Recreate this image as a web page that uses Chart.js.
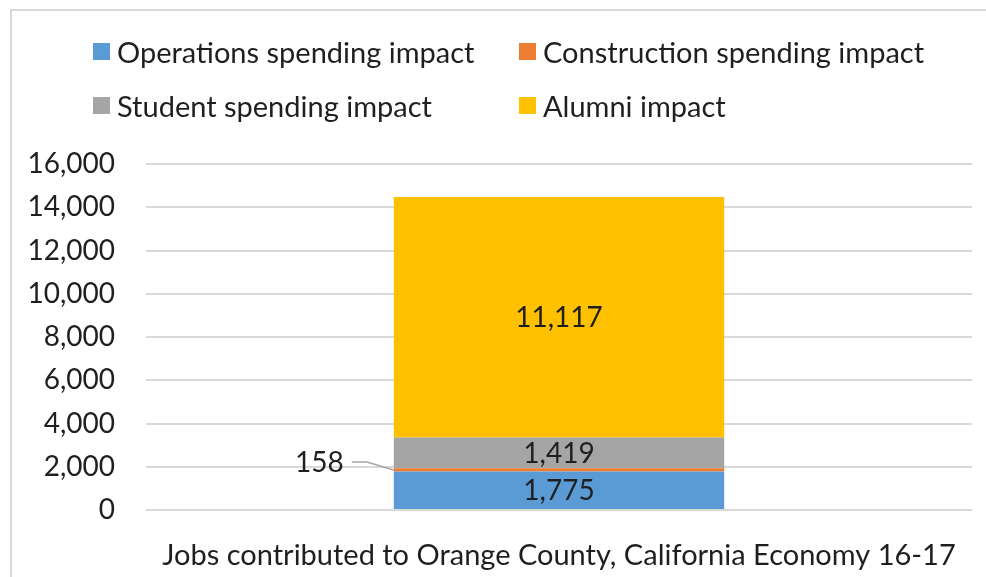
<!DOCTYPE html>
<html>
<head>
<meta charset="utf-8">
<script src="https://cdn.jsdelivr.net/npm/chart.js@4.4.1/dist/chart.umd.min.js"></script>
<style>
  body { margin: 0; background: #fff; }
  #wrap { position: relative; width: 986px; height: 577px; overflow: hidden; }
  #frame { position: absolute; left: 10px; top: 9px; width: 1000px; height: 600px;
           border-left: 2px solid #d9d9d9; border-top: 2px solid #d9d9d9; box-sizing: border-box; }
  #jobs { position: absolute; left: 0; top: 0; }
  .lg { position: absolute; font-family: Lato, sans-serif; font-size: 29px; color: #1f1f1f;
        white-space: nowrap; line-height: 34px; }
  .lg span { position: absolute; width: 17px; height: 17px; left: -24px; top: 8px; }
</style>
</head>
<body>
<div id="wrap">
  <div id="frame"></div>
  <canvas id="jobs" width="986" height="577"></canvas>
  <div id="legend"></div>
</div>
<script>
var categories = ['Jobs contributed to Orange County, California Economy 16-17'];
var seriesNames = ['Operations spending impact', 'Construction spending impact',
                   'Student spending impact', 'Alumni impact'];
var operations = [1775];
var construction = [158];
var student = [1419];
var alumni = [11117];
var colors = ['#5b9bd5', '#ed7d31', '#a5a5a5', '#ffc000'];
var yMax = 16000;
var yStep = 2000;

var seriesValues = [operations, construction, student, alumni];

// legend laid out in two columns like the original
var legendPos = [[117, 35], [543, 35], [117, 89], [543, 89]];
var legend = document.getElementById('legend');
seriesNames.forEach(function (name, i) {
  var d = document.createElement('div');
  d.className = 'lg';
  d.style.left = legendPos[i][0] + 'px';
  d.style.top = legendPos[i][1] + 'px';
  d.innerHTML = '<span style="background:' + colors[i] + '"></span>' + name;
  legend.appendChild(d);
});

function fmt(v) { return v.toLocaleString('en-US'); }

// value labels inside segments, small one pulled out with a leader line
var valueLabels = {
  id: 'valueLabels',
  afterDatasetsDraw: function (chart) {
    var ctx = chart.ctx;
    ctx.save();
    ctx.font = '28px Lato';
    ctx.fillStyle = '#1f1f1f';
    ctx.textBaseline = 'middle';
    chart.data.datasets.forEach(function (ds, i) {
      var bar = chart.getDatasetMeta(i).data[0];
      var v = ds.data[0];
      var mid = (bar.y + bar.base) / 2;
      if (Math.abs(bar.base - bar.y) > 20) {
        ctx.textAlign = 'center';
        ctx.fillText(fmt(v), bar.x, mid + 1);
      } else {
        var left = bar.x - bar.width / 2;
        ctx.textAlign = 'right';
        ctx.fillText(fmt(v), left - 50, mid - 7);
        ctx.strokeStyle = '#a5a5a5';
        ctx.lineWidth = 1.5;
        ctx.beginPath();
        ctx.moveTo(left - 42, mid - 8);
        ctx.lineTo(left - 27, mid - 8);
        ctx.lineTo(left, mid);
        ctx.stroke();
      }
    });
    ctx.restore();
  }
};

var jobs = document.getElementById('jobs').getContext('2d');
var chart = new Chart(jobs, {
  type: 'bar',
  data: {
    labels: categories,
    datasets: seriesNames.map(function (name, i) {
      return {
        label: name,
        data: seriesValues[i],
        backgroundColor: colors[i],
        barPercentage: 0.4,
        categoryPercentage: 1
      };
    })
  },
  options: {
    responsive: false,
    animation: false,
    layout: { padding: { left: 10, top: 164, right: 14, bottom: 0 } },
    plugins: { legend: { display: false }, tooltip: { enabled: false } },
    scales: {
      x: {
        stacked: true,
        grid: { display: false },
        border: { display: false },
        ticks: { font: { family: 'Lato', size: 29 }, color: '#1f1f1f', padding: 20 },
        afterFit: function (s) { s.height = 67; }
      },
      y: {
        stacked: true,
        min: 0,
        max: yMax,
        border: { display: false },
        grid: { color: '#d9d9d9', lineWidth: 2, drawTicks: false },
        ticks: {
          stepSize: yStep,
          padding: 31,
          font: { family: 'Lato', size: 28 },
          color: '#1f1f1f',
          callback: function (v) { return fmt(v); }
        },
        afterFit: function (s) { s.width = 136; }
      }
    }
  },
  plugins: [valueLabels]
});
</script>
</body>
</html>
